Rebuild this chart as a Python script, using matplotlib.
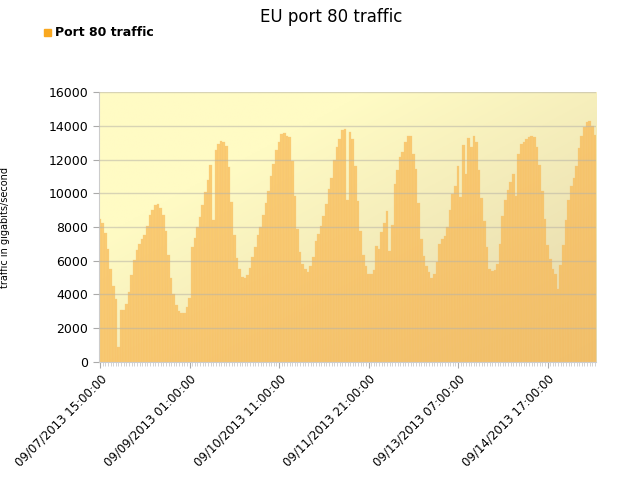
import matplotlib
matplotlib.use("Agg")
import matplotlib.pyplot as plt
import numpy as np

traffic = [8490,8240,7650,6680,5540,4490,3740,870,3070,3070,3410,4160,5140,6030,6620,6980,7310,7510,8060,8690,
9000,9280,9380,9120,8690,7740,6360,4990,4000,3370,3010,2880,2880,3230,3820,6820,7370,8000,8610,9320,
10070,10800,11690,8390,12570,12930,13120,13020,12830,11550,9480,7550,6170,5540,5040,4950,5140,5580,6230,6820,
7510,8000,8730,9440,10130,11010,11740,12590,13020,13520,13580,13420,13320,11940,9830,7860,6520,5830,5540,5340,
5670,6230,7150,7570,8060,8630,9340,10230,10900,11980,12730,13220,13770,13810,9580,13660,13220,11610,9540,7760,
6360,5670,5240,5240,5440,6880,6680,7710,8260,8950,6580,8100,10560,11380,12140,12430,13020,13380,13420,12330,
11450,9440,7270,6290,5690,5340,4990,5240,5930,7010,7310,7450,8000,8990,9970,10460,11640,9810,12870,11150,
13280,12730,13420,13060,11380,9710,8330,6820,5540,5400,5440,5830,7010,8630,9610,10210,10660,11150,9870,12330,
12930,13060,13220,13320,13420,13320,12730,11700,10110,8490,6960,6130,5540,5240,4350,5730,6960,8390,9610,10460,
10920,11640,12670,13420,13910,14210,14300,14010,13460]
tick_labels = ["09/07/2013 15:00:00","09/09/2013 01:00:00","09/10/2013 11:00:00",
               "09/11/2013 21:00:00","09/13/2013 07:00:00","09/14/2013 17:00:00"]
tick_step = 34
yticks = [0,2000,4000,6000,8000,10000,12000,14000,16000]

n = len(traffic)
fig = plt.figure(figsize=(6.25,4.8), dpi=100)
ax = fig.add_axes([0.158,0.246,0.796,0.562])
ax.set_xlim(-0.5, n-0.5)
ax.set_ylim(0,16000)

# gradient background (yellow top-left -> tan bottom-right)
gx, gy = np.meshgrid(np.linspace(0,1,200), np.linspace(0,1,200))
t = np.clip(gx*0.65 + gy*0.65 - 0.35, 0, 1)
c0 = np.array([255,251,196])/255; c1 = np.array([226,212,170])/255
img = c0[None,None,:]*(1-t[...,None]) + c1[None,None,:]*t[...,None]
ax.imshow(img, extent=[-0.5,n-0.5,0,16000], origin='upper', aspect='auto', zorder=0)

ax.bar(np.arange(n), traffic, width=1.0, color='#f9b040', alpha=0.62,
       edgecolor='#f7c880', linewidth=0.3, zorder=2)
for yv in yticks[1:]:
    ax.axhline(yv, color='#b8b4a8', lw=1, alpha=0.55, zorder=3)

ax.set_yticks(yticks)
ax.set_yticklabels([str(v) for v in yticks], fontsize=9)
ax.set_xticks(np.arange(0, n, tick_step))
ax.set_xticklabels(tick_labels, rotation=45, ha='right', rotation_mode='anchor', fontsize=8.5)
ax.set_xticks(np.arange(n), minor=True)
ax.tick_params(axis='x', which='minor', length=3, color='#cccccc')
ax.tick_params(axis='both', which='major', length=4, color='#aaaaaa')
for s in ['top','right']:
    ax.spines[s].set_visible(False)
for s in ['left','bottom']:
    ax.spines[s].set_color('#cccccc')
ax.set_ylabel('traffic in gigabits/second', fontsize=7, labelpad=28)

fig.text(0.53, 0.965, 'EU port 80 traffic', ha='center', va='center', fontsize=12)
fig.patches.append(matplotlib.patches.Rectangle((0.071,0.926),0.011,0.014, transform=fig.transFigure,
                   color='#f9a820', figure=fig))
fig.text(0.088, 0.933, 'Port 80 traffic', ha='left', va='center', fontsize=9, fontweight='bold')
fig.savefig('out.png', dpi=100)
